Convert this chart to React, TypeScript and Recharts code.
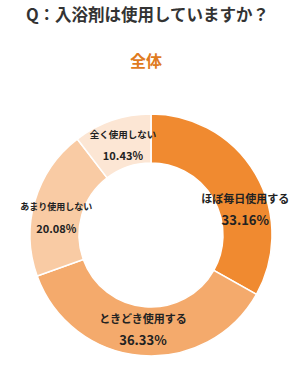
import React from 'react';
import { PieChart, Pie, Cell } from 'recharts';

const categories = ['ほぼ毎日使用する', 'ときどき使用する', 'あまり使用しない', '全く使用しない'];
const shares = [33.16, 36.33, 20.08, 10.43];
const colors = ['#F08A30', '#F4AA6C', '#F9CBA4', '#FCE6D4'];

// label tweaks per slice (offset from slice middle, font sizes)
const labelShift = [
  { dx: 11, dy: 23, name: 11, pct: 13 },
  { dx: 0, dy: -2, name: 11, pct: 13 },
  { dx: -2, dy: 10, name: 9, pct: 11 },
  { dx: 3, dy: 1, name: 9.5, pct: 11 },
];

const data = categories.map((name, i) => ({ name, value: shares[i] }));

const RAD = Math.PI / 180;

const renderLabel = (props: any) => {
  const { cx, cy, midAngle, innerRadius, outerRadius, index } = props;
  const r = (innerRadius + outerRadius) / 2;
  const s = labelShift[index];
  const x = cx + r * Math.cos(-midAngle * RAD) + s.dx;
  const y = cy + r * Math.sin(-midAngle * RAD) + s.dy;
  return (
    <g>
      <text x={x} y={y - 11} textAnchor="middle" dominantBaseline="central"
        fontSize={s.name} fontWeight="bold" fill="#222">
        {categories[index]}
      </text>
      <text x={x} y={y + 10} textAnchor="middle" dominantBaseline="central"
        fontSize={s.pct} fontWeight="bold" fill="#222">
        {shares[index].toFixed(2)}%
      </text>
    </g>
  );
};

export default function App() {
  return (
    <div style={{
      position: 'absolute', left: 0, top: 0, width: 295, height: 367,
      background: '#fff', fontFamily: '"Noto Sans CJK JP", "Noto Sans", sans-serif',
    }}>
      <div style={{
        position: 'absolute', top: 2, left: 0, width: 295, textAlign: 'center',
        fontSize: 16.5, fontWeight: 'bold', color: '#333', lineHeight: '24px',
      }}>
        Q：入浴剤は使用していますか？
      </div>
      <div style={{
        position: 'absolute', top: 48, left: 0, width: 292, textAlign: 'center',
        fontSize: 16, fontWeight: 'bold', color: '#E07B1E', lineHeight: '24px',
      }}>
        全体
      </div>
      <div style={{ position: 'absolute', left: 0, top: 0 }}>
        <PieChart width={295} height={367}>
          <Pie
            data={data}
            dataKey="value"
            nameKey="name"
            cx={146}
            cy={230}
            innerRadius={72}
            outerRadius={121}
            startAngle={90}
            endAngle={-270}
            stroke="#fff"
            strokeWidth={1.5}
            label={renderLabel}
            labelLine={false}
            isAnimationActive={false}
          >
            {data.map((d, i) => (
              <Cell key={d.name} fill={colors[i]} />
            ))}
          </Pie>
        </PieChart>
      </div>
    </div>
  );
}
